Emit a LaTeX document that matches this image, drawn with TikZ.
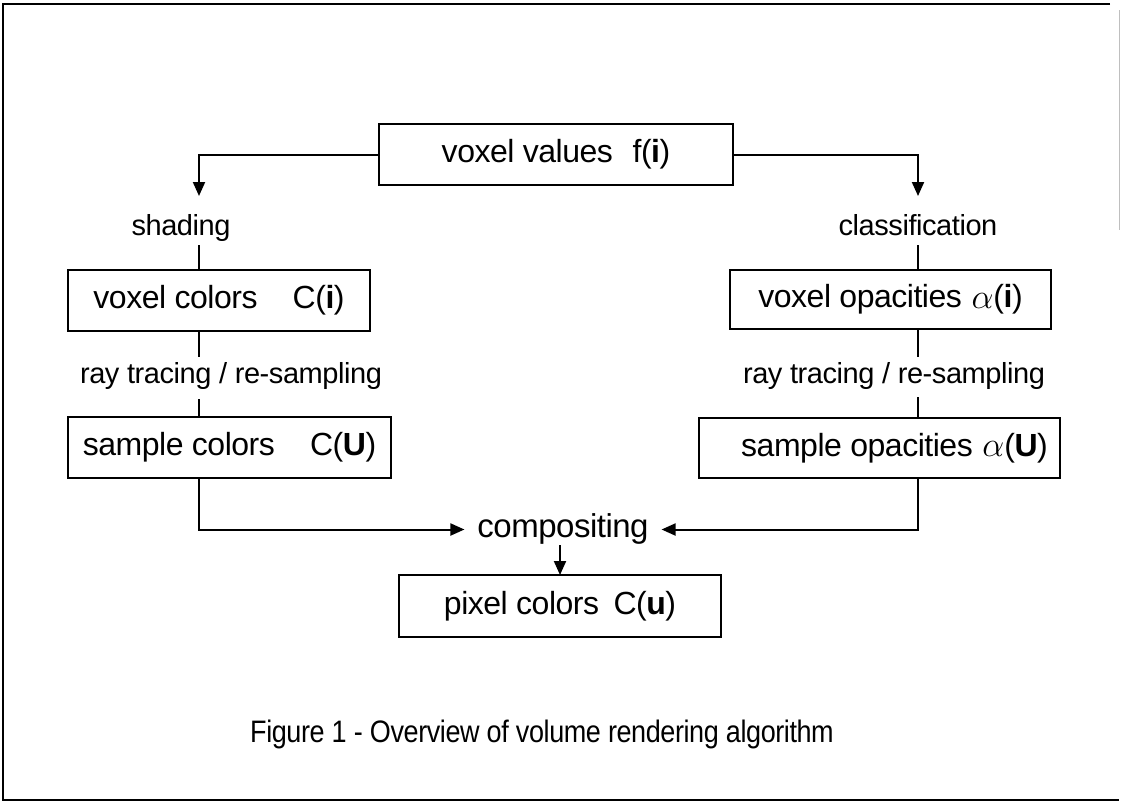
\documentclass[tikz,border=0pt]{standalone}
\usepackage{fontspec}
\setmainfont{Liberation Sans}[LetterSpace=-1.5]
\usetikzlibrary{arrows.meta,calc}

\newcommand{\opa}{\raisebox{-0.5pt}{\scalebox{1.4}{$\alpha$}}}

\begin{document}
\begin{tikzpicture}[x=1pt,y=-1pt,
  every node/.style={inner sep=0pt,outer sep=0pt},
  box/.style={draw,line width=2pt,minimum height=61pt,
    font=\fontsize{32}{38}\selectfont},
  lbl/.style={font=\fontsize{29}{34}\selectfont,anchor=base,
    text height=21pt,text depth=7pt},
  link/.style={line width=2pt},
  arr/.style={line width=2pt,-{Triangle[length=14pt,width=12pt]}}]

% page and frame
\useasboundingbox (0,0) rectangle (1121,806);
\draw[line width=2.6pt] (1110,4) -- (3,4) -- (3,800) -- (1119,800);
\draw[line width=1pt,black!25] (1119,10) -- (1119,230);

% columns of the two branches
\coordinate (lc) at (199,0);
\coordinate (rc) at (918,0);

% boxes
\node[box,minimum width=354pt] (vals) at (556,154.5) {voxel values\hspace{0.35em} f(\textbf{i})\hspace{1em}};
\node[box,minimum width=302pt] (vcol) at (219,300.5) {voxel colors\hspace{1.1em}C(\textbf{i})};
\node[box,minimum width=321pt,minimum height=59pt] (vopa) at (890.5,299.5) {voxel opacities\hspace{0.3em}\opa(\textbf{i})};
\node[box,minimum width=323pt] (scol) at (229.5,447.5) {sample colors\hspace{1.1em}C(\textbf{U})};
\node[box,minimum width=361pt,minimum height=60pt] (sopa) at (879.5,448) {\hspace{30pt}sample opacities\hspace{0.3em}\opa(\textbf{U})};
\node[box,minimum width=322pt,minimum height=62pt] (pix) at (560,606) {pixel colors\hspace{0.45em}C(\textbf{u})\hspace{0.5em}};

% labels
\node[lbl] (shade) at (181,235) {shading};
\node[lbl] (classif) at (918,235) {classification};
\node[lbl] (rtl) at (231,383) {ray tracing / re-sampling};
\node[lbl] (rtr) at (894,383) {ray tracing / re-sampling};
\node[lbl,font=\fontsize{33}{38}\selectfont,text height=23pt,text depth=8pt] (comp) at (563,537) {compositing};

% caption
\node[font=\fontsize{27}{32}\selectfont,anchor=base] (cap) at (542,742) {\scalebox{1}[1.15]{Figure 1 - Overview of volume rendering algorithm}};

% left branch
\draw[arr] (vals.west) -| ([yshift=18pt]shade.north -| lc);
\draw[link] ([yshift=-3pt]shade.south -| lc) -- (vcol.north -| lc);
\draw[link] (vcol.south -| lc) -- ([yshift=5pt]rtl.north -| lc);
\draw[link] ([yshift=-9pt]rtl.south -| lc) -- (scol.north -| lc);
\draw[arr] (scol.south -| lc) |- ([xshift=-13pt]comp.west);

% right branch
\draw[arr] (vals.east) -| ([yshift=18pt]classif.north -| rc);
\draw[link] ([yshift=-3pt]classif.south -| rc) -- (vopa.north -| rc);
\draw[link] (vopa.south -| rc) -- ([yshift=5pt]rtr.north -| rc);
\draw[link] ([yshift=-7pt]rtr.south -| rc) -- (sopa.north -| rc);
\draw[arr] (sopa.south -| rc) |- ([xshift=13pt]comp.east);

% result
\draw[arr] (comp.south -| pix.north) -- (pix.north);
\end{tikzpicture}
\end{document}
